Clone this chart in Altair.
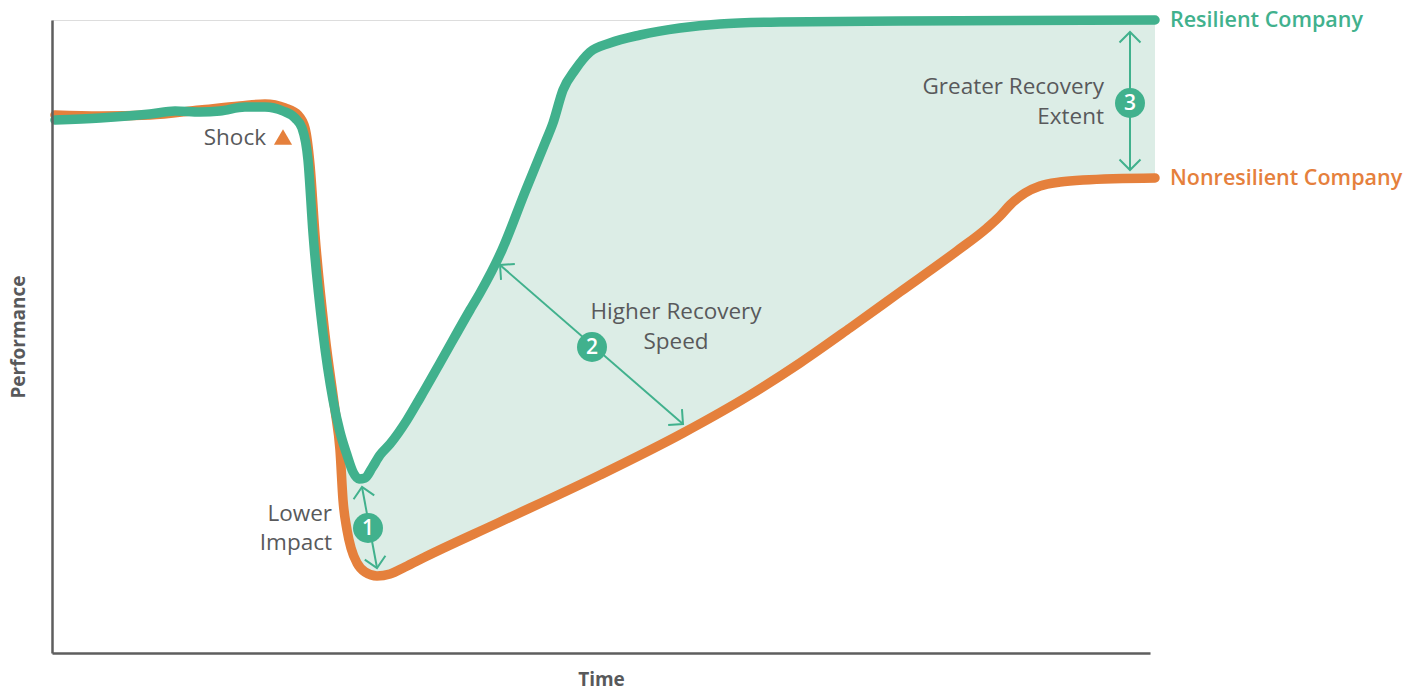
import math
import altair as alt
import pandas as pd

# ---- data (time units, performance units) ----
green_t = [3, 48, 98, 123, 148, 168, 193, 213, 231, 243, 250, 256, 261, 271, 281, 288, 295, 301, 307, 313,
           320, 328, 338, 355, 368, 388, 418, 428, 450, 473, 493, 501, 511, 523, 538, 558, 588, 628, 668, 728, 848, 1103]
green_p = [533, 535, 539, 542, 541, 542, 546, 546, 542, 535, 525, 493, 420, 320, 253, 221, 198, 181, 174, 175,
           185, 198, 209, 233, 255, 290, 343, 360, 403, 461, 510, 530, 563, 583, 601, 610, 618, 625, 629, 631, 632, 633]

orange_t = [3, 48, 98, 148, 188, 213, 233, 246, 253, 258, 263, 273, 283, 288, 291, 295, 299, 305, 313, 325,
            338, 353, 373, 448, 548, 631, 698, 748, 798, 848, 905, 935, 948, 958, 973, 988, 1008, 1031, 1103]
orange_p = [538, 537, 538, 543, 547, 549, 545, 538, 525, 488, 418, 318, 243, 203, 153, 123, 105, 90, 81, 77,
            79, 86, 96, 131, 178, 220, 258, 290, 325, 361, 402, 425, 437, 448, 460, 467, 471, 473, 475]

# arrows: start, end, circle position, number
arrow_x1 = [310, 448, 1078]
arrow_y1 = [166, 388, 621]
arrow_x2 = [325, 631, 1078]
arrow_y2 = [85, 229, 483]
circle_x = [316, 540, 1078]
circle_y = [125, 306, 550]
circle_lbl = ["1", "2", "3"]

# annotation labels
note_lines = ["Shock", "Lower", "Impact", "Higher Recovery", "Speed", "Greater Recovery", "Extent"]
note_x = [214, 280, 280, 624, 624, 1052, 1052]
note_y = [515, 139, 110, 341, 311, 566, 536]
note_align = ["right", "right", "right", "center", "center", "right", "right"]

series_names = ["Resilient Company", "Nonresilient Company"]
series_lbl_x = [1118, 1118]
series_lbl_y = [632, 474]

shock_x = [231]
shock_y = [516]

GREEN = "#41B18D"
ORANGE = "#E5803C"
FILL = "#DCEDE6"
GRAY = "#58595B"
FONT = "Open Sans"

green_df = pd.DataFrame({"x": green_t, "y": green_p})
orange_df = pd.DataFrame({"x": orange_t, "y": orange_p})
arrow_df = pd.DataFrame({"x": arrow_x1, "y": arrow_y1, "x2": arrow_x2, "y2": arrow_y2})
circ_df = pd.DataFrame({"x": circle_x, "y": circle_y, "t": circle_lbl})

heads = []
for a, b, c, d in zip(arrow_x1, arrow_y1, arrow_x2, arrow_y2):
    ang_start = math.degrees(math.atan2(a - c, b - d)) % 360
    heads.append({"x": a, "y": b, "ang": ang_start})
    heads.append({"x": c, "y": d, "ang": (ang_start + 180) % 360})
head_df = pd.DataFrame(heads)

note_df = pd.DataFrame({"x": note_x, "y": note_y, "t": note_lines, "al": note_align})
series_df = pd.DataFrame({"x": series_lbl_x, "y": series_lbl_y, "t": series_names, "c": [GREEN, ORANGE]})
shock_df = pd.DataFrame({"x": shock_x, "y": shock_y})

xs = alt.Scale(domain=[0, 1098], nice=False, zero=False)
ys = alt.Scale(domain=[0, 633], nice=False, zero=False)
x_axis = alt.Axis(title="Time", labels=False, ticks=False, grid=False, domainColor="#5E5E5E",
                  domainWidth=2.5, titleFontSize=19, titleFontWeight="bold", titleColor=GRAY,
                  titleFont=FONT, titlePadding=17, zindex=1)
y_axis = alt.Axis(title="Performance", labels=False, ticks=False, grid=False, domainColor="#5E5E5E",
                  domainWidth=2.5, titleFontSize=19, titleFontWeight="bold", titleColor=GRAY,
                  titleFont=FONT, titlePadding=24, zindex=1)
X = alt.X("x:Q", scale=xs, axis=x_axis)
Y = alt.Y("y:Q", scale=ys, axis=y_axis)

band_green = alt.Chart(green_df).transform_filter(alt.datum.x >= 281).mark_area(
    interpolate="monotone", color=FILL, opacity=1).encode(x=X, y=Y, y2=alt.datum(0))
band_white = alt.Chart(orange_df).transform_filter(alt.datum.x >= 273).mark_area(
    interpolate="monotone", color="white", opacity=1, stroke="white", strokeWidth=1).encode(
    x=X, y=Y, y2=alt.datum(0))

orange_line = alt.Chart(orange_df).mark_line(interpolate="monotone", color=ORANGE, strokeWidth=9.5,
                                             strokeCap="round", strokeJoin="round").encode(x=X, y=Y)
green_line = alt.Chart(green_df).mark_line(interpolate="monotone", color=GREEN, strokeWidth=9.5,
                                           strokeCap="round", strokeJoin="round").encode(x=X, y=Y)

arrows = alt.Chart(arrow_df).mark_rule(color=GREEN, strokeWidth=2).encode(x=X, y=Y, x2="x2:Q", y2="y2:Q")
arrow_heads = alt.Chart(head_df).mark_point(shape="M -1 1 L 0 0 L 1 1", filled=False, size=441,
                                            strokeWidth=2, color=GREEN, opacity=1).encode(
    x=X, y=Y, angle=alt.Angle("ang:Q", scale=None))

circles = alt.Chart(circ_df).mark_circle(size=900, color=GREEN, opacity=1).encode(x=X, y=Y)
circ_text = alt.Chart(circ_df).mark_text(font=FONT, fontSize=21, fontWeight=600, color="white",
                                         baseline="middle", align="center", dy=1).encode(x=X, y=Y, text="t:N")

notes = []
for al in ["left", "center", "right"]:
    notes.append(alt.Chart(note_df).transform_filter(alt.datum.al == al).mark_text(
        font=FONT, fontSize=22.5, fontWeight=500, color=GRAY, baseline="middle", align=al).encode(
        x=X, y=Y, text="t:N"))

series_txt = alt.Chart(series_df).mark_text(font=FONT, fontSize=21.5, fontWeight=600, align="left",
                                            baseline="middle").encode(
    x=X, y=Y, text="t:N", color=alt.Color("c:N", scale=None))

shock_tri = alt.Chart(shock_df).mark_point(shape="triangle-up", filled=True, size=330, color=ORANGE,
                                           opacity=1).encode(x=X, y=Y)

chart = alt.layer(band_green, band_white, orange_line, green_line, arrows, arrow_heads, circles,
                  circ_text, *notes, series_txt, shock_tri).properties(
    width=1098, height=633,
    autosize=alt.AutoSizeParams(type="none"),
    padding={"left": 52, "top": 20, "right": 268, "bottom": 40},
).configure_view(stroke=None).configure(background="white")

chart.save("out.html", embed_options={"renderer": "svg", "actions": False})
